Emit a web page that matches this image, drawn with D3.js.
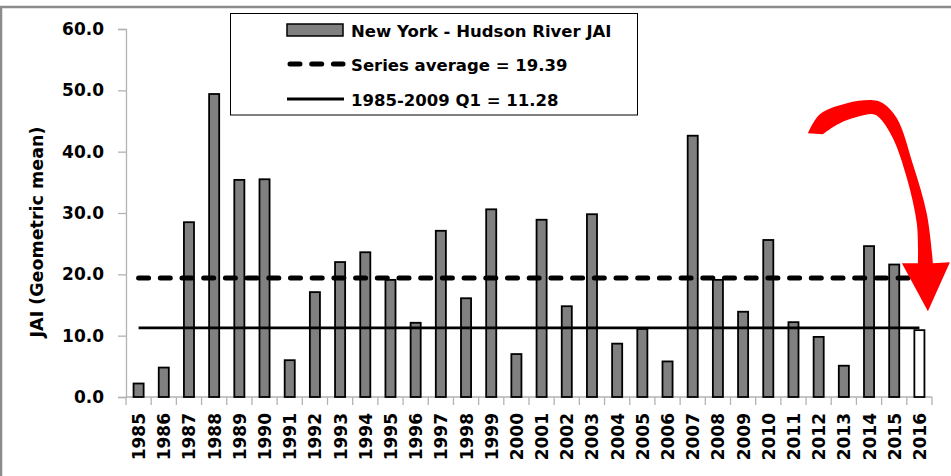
<!DOCTYPE html>
<html>
<head>
<meta charset="utf-8">
<script src="https://cdn.jsdelivr.net/npm/d3@7"></script>
<style>
  html, body { margin: 0; padding: 0; background: #fff; }
  svg text { font-family: "DejaVu Sans", sans-serif; font-weight: bold; fill: #000; }
</style>
</head>
<body>
<svg id="chart" width="951" height="476"></svg>
<script>
// data
const years = ["1985","1986","1987","1988","1989","1990","1991","1992","1993","1994","1995","1996",
  "1997","1998","1999","2000","2001","2002","2003","2004","2005","2006","2007","2008","2009","2010",
  "2011","2012","2013","2014","2015","2016"];
const jai = [2.2, 4.8, 28.5, 49.4, 35.4, 35.5, 6.0, 17.1, 22.0, 23.6, 19.1, 12.1,
  27.1, 16.1, 30.6, 7.0, 28.9, 14.8, 29.8, 8.7, 11.1, 5.8, 42.6, 19.1, 13.9, 25.6,
  12.2, 9.8, 5.1, 24.6, 21.6, 10.9];
const seriesAverage = 19.39;
const q1 = 11.28;
const yTicks = [0, 10, 20, 30, 40, 50, 60];
const legendLabels = ["New York - Hudson River JAI", "Series average = 19.39", "1985-2009 Q1 = 11.28"];
const currentYear = "2016";

const svg = d3.select("#chart");
const data = years.map((y, i) => ({ year: y, value: jai[i] }));

let x = d3.scaleBand()
  .domain(years)
  .range([126, 932])
  .paddingInner(0.6)
  .paddingOuter(0.3);
let y = d3.scaleLinear().domain([0, 60]).range([397, 29]);
let step = x.step();

// frame lines
svg.append("line").attr("x1", 0).attr("x2", 951).attr("y1", 7).attr("y2", 7)
  .attr("stroke", "#8c8c8c").attr("stroke-width", 2.5);
svg.append("line").attr("x1", 1).attr("x2", 1).attr("y1", 6).attr("y2", 476)
  .attr("stroke", "#8c8c8c").attr("stroke-width", 2.5);

// y axis
const yAxis = svg.append("g").attr("transform", "translate(126,0)")
  .call(d3.axisLeft(y).tickValues(yTicks).tickSize(8).tickPadding(14).tickFormat(d3.format(".1f")));
yAxis.select(".domain").attr("stroke", "#b3b3b3").attr("stroke-width", 1.3);
yAxis.selectAll(".tick line").attr("stroke", "#b3b3b3").attr("stroke-width", 1.3);
yAxis.selectAll(".tick text").style("font-size", "17px").style("font-family", "DejaVu Sans")
  .style("font-weight", "bold").attr("fill", "#000");

// x axis line and ticks at band boundaries
const xAxis = svg.append("g");
xAxis.append("line").attr("x1", 126).attr("x2", 932).attr("y1", y(0)).attr("y2", y(0))
  .attr("stroke", "#b3b3b3").attr("stroke-width", 1.3);
xAxis.selectAll("line.tk")
  .data(d3.range(years.length + 1))
  .enter()
  .append("line")
  .attr("class", "tk")
  .attr("x1", i => 126 + i * step)
  .attr("x2", i => 126 + i * step)
  .attr("y1", y(0))
  .attr("y2", y(0) + 8)
  .attr("stroke", "#b3b3b3")
  .attr("stroke-width", 1.3);
xAxis.selectAll("text")
  .data(years)
  .enter()
  .append("text")
  .attr("transform", d => `translate(${x(d) + x.bandwidth() / 2 + 6.5},413) rotate(-90)`)
  .attr("text-anchor", "end")
  .style("font-size", "17px")
  .text(d => d);

// y title
svg.append("text")
  .attr("transform", "translate(43,232) rotate(-90)")
  .attr("text-anchor", "middle")
  .style("font-size", "17.5px")
  .text("JAI (Geometric mean)");

// bars
svg.selectAll("rect.bar")
  .data(data)
  .enter()
  .append("rect")
  .attr("class", "bar")
  .attr("x", d => x(d.year))
  .attr("y", d => y(d.value))
  .attr("width", x.bandwidth())
  .attr("height", d => y(0) - y(d.value))
  .attr("fill", d => d.year === currentYear ? "#fff" : "#808080")
  .attr("stroke", "#000")
  .attr("stroke-width", 1.8);

// reference lines
const x0 = x(years[0]) + x.bandwidth() / 2;
const x1 = x(years[years.length - 1]) + x.bandwidth() / 2;
svg.append("line")
  .attr("x1", x0).attr("x2", x1)
  .attr("y1", y(seriesAverage)).attr("y2", y(seriesAverage))
  .attr("stroke", "#000").attr("stroke-width", 5)
  .attr("stroke-linecap", "round")
  .attr("stroke-dasharray", "10,11.7");
svg.append("line")
  .attr("x1", x0).attr("x2", x1)
  .attr("y1", y(q1)).attr("y2", y(q1))
  .attr("stroke", "#000").attr("stroke-width", 2.8);

// legend
const legend = svg.append("g");
legend.append("rect")
  .attr("x", 230.5).attr("y", 13.5).attr("width", 407).attr("height", 101.5)
  .attr("fill", "#fff").attr("stroke", "#000").attr("stroke-width", 1);
const rowY = [30, 64, 99];
legend.append("rect")
  .attr("x", 287).attr("y", rowY[0] - 6).attr("width", 56).attr("height", 12)
  .attr("fill", "#808080").attr("stroke", "#000").attr("stroke-width", 1.5);
legend.append("line")
  .attr("x1", 290).attr("x2", 343).attr("y1", rowY[1]).attr("y2", rowY[1])
  .attr("stroke", "#000").attr("stroke-width", 5)
  .attr("stroke-linecap", "round").attr("stroke-dasharray", "10,11.7");
legend.append("line")
  .attr("x1", 287).attr("x2", 344).attr("y1", rowY[2]).attr("y2", rowY[2])
  .attr("stroke", "#000").attr("stroke-width", 2.8);
legend.selectAll("text")
  .data(legendLabels)
  .enter()
  .append("text")
  .attr("x", 351)
  .attr("y", (d, i) => rowY[i] + 6.5)
  .style("font-size", "16.5px")
  .text(d => d);

// red arrow pointing at the latest year
const tipX = x(currentYear) + x.bandwidth() / 2 + 8.5;
const tipY = y(14);
const outer = [[5, -48], [-1, -97], [-15, -147], [-31, -193], [-45, -208], [-55, -211], [-81, -208], [-108, -197], [-120, -178]];
const inner = [[-105, -177], [-88, -188], [-55, -197], [-48, -193], [-35, -173], [-21, -133], [-11, -87], [-10, -48]];
const edge = d3.line().curve(d3.curveCatmullRom);
const arrowPath = "M0,0L22,-49" + edge(outer).replace(/^M/, "L") + edge(inner).replace(/^M/, "L") + "L-26,-48Z";
svg.append("path")
  .attr("transform", `translate(${tipX},${tipY})`)
  .attr("d", arrowPath)
  .attr("fill", "#ff0000");
</script>
</body>
</html>
